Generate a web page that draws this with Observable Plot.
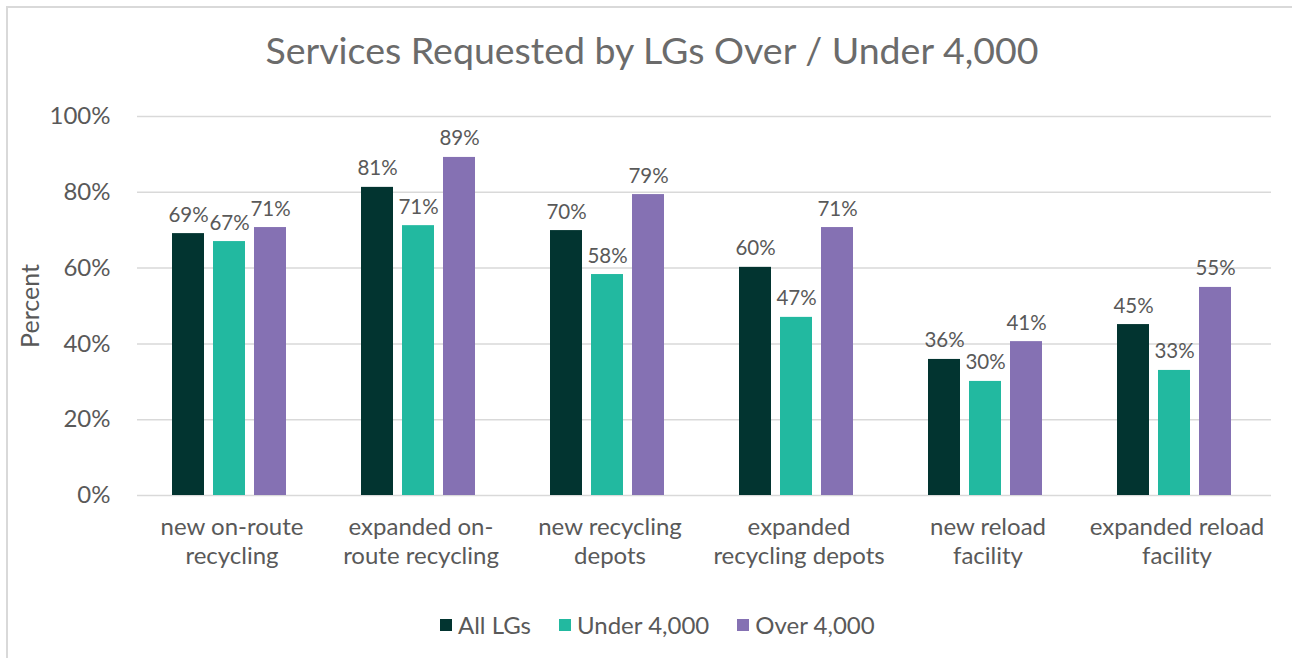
<!DOCTYPE html>
<html>
<head>
<meta charset="utf-8">
<script src="https://cdn.jsdelivr.net/npm/d3@7"></script>
<script src="https://cdn.jsdelivr.net/npm/@observablehq/plot@0.6"></script>
<style>
  html, body { margin: 0; padding: 0; background: #fff; }
  body { width: 1292px; height: 658px; overflow: hidden; position: relative; font-family: Lato, "Open Sans", sans-serif; }
  #frame { position: absolute; left: 6px; top: 6px; width: 1400px; height: 800px; border: 2px solid #d9d9d9; box-sizing: border-box; }
  #title { position: absolute; left: 0; top: 26px; width: 1304px; text-align: center; font-size: 37.5px; color: #6b6b6b; line-height: 48px; }
  #chart { position: absolute; left: 0; top: 0; }
  #legend { position: absolute; left: 440px; top: 609px; display: flex; align-items: center; font-size: 24px; color: #595959; line-height: 32px; }
  .item { display: flex; align-items: center; margin-right: 28px; }
  .sw { width: 12px; height: 12px; margin-right: 6px; }
</style>
</head>
<body>
<div id="frame"></div>
<div id="chart"></div>
<div id="title">Services Requested by LGs Over / Under 4,000</div>
<div id="legend"></div>
<script>
const categories = [
  "new on-route\nrecycling",
  "expanded on-\nroute recycling",
  "new recycling\ndepots",
  "expanded\nrecycling depots",
  "new reload\nfacility",
  "expanded reload\nfacility"
];
const series = ["All LGs", "Under 4,000", "Over 4,000"];
const colors = ["#023430", "#22b9a0", "#8571b3"];
const allLGs    = [69.1, 81.3, 69.9, 60.2, 35.9, 45.1];
const under4000 = [67.0, 71.2, 58.3, 47.0, 30.1, 33.0];
const over4000  = [70.7, 89.2, 79.4, 70.7, 40.6, 54.9];
const yTicks = [0, 20, 40, 60, 80, 100];

const seriesValues = [allLGs, under4000, over4000];
const data = [];
categories.forEach((c, i) => {
  series.forEach((s, j) => data.push({category: c, series: s, value: seriesValues[j][i]}));
});

const chart = Plot.plot({
  width: 1292,
  height: 600,
  marginTop: 116,
  marginBottom: 105,
  marginLeft: 137,
  marginRight: 21,
  style: {fontFamily: "Lato, 'Open Sans', sans-serif", background: "transparent"},
  fx: {domain: categories, padding: 0, label: null},
  x: {domain: series, paddingInner: 0.215, paddingOuter: 0.88, align: 0.466, axis: null},
  y: {domain: [0, 100], label: null},
  color: {domain: series, range: colors},
  marks: [
    Plot.gridY(yTicks, {stroke: "#d9d9d9", strokeOpacity: 1, strokeWidth: 1.5}),
    Plot.barY(data, {fx: "category", x: "series", y: "value", fill: "series"}),
    Plot.text(data, {fx: "category", x: "series", y: "value", text: d => Math.round(d.value) + "%",
      lineAnchor: "bottom", dy: -12, fontSize: 20.5, fill: "#595959"}),
    Plot.axisY({ticks: yTicks, tickFormat: d => d + "%", tickSize: 0, tickPadding: 27, fontSize: 24, color: "#595959", label: null}),
    Plot.axisFx({anchor: "bottom", tickSize: 0, tickPadding: 19, fontSize: 24, lineHeight: 1.2, color: "#595959", label: null}),
    Plot.text(["Percent"], {frameAnchor: "left", textAnchor: "middle", dx: -107, dy: 0, rotate: -90, fontSize: 25, fill: "#595959", facet: "super"})
  ]
});
document.getElementById("chart").appendChild(chart);

const legend = document.getElementById("legend");
series.forEach((s, j) => {
  const item = document.createElement("div");
  item.className = "item";
  const sw = document.createElement("div");
  sw.className = "sw";
  sw.style.background = colors[j];
  const t = document.createElement("span");
  t.textContent = s;
  item.appendChild(sw);
  item.appendChild(t);
  legend.appendChild(item);
});
</script>
</body>
</html>
